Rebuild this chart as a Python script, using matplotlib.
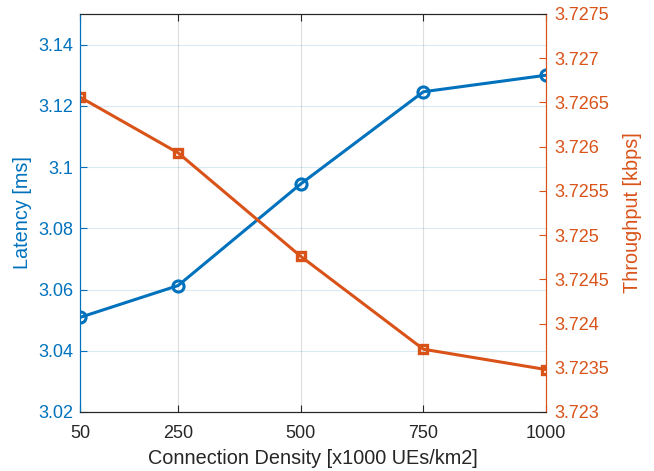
import matplotlib
matplotlib.use('Agg')
import matplotlib.pyplot as plt
import numpy as np

plt.rcParams['font.family'] = ['Liberation Sans', 'DejaVu Sans']

density = [50, 250, 500, 750, 1000]
latency = [3.0509, 3.0613, 3.0945, 3.1246, 3.1300]
throughput = [3.72656, 3.72593, 3.72476, 3.72371, 3.72348]

blue = '#0072BD'
orange = '#D95319'
dark = '#262626'

fig = plt.figure(figsize=(6.54, 4.71), dpi=100)
ax = fig.add_axes([80/654, 59/471, 466/654, 398/471])
ax2 = ax.twinx()

ax.plot(density, latency, '-o', color=blue, lw=2.2, ms=8, mfc='none', mew=2.2)
ax2.plot(density, throughput, '-s', color=orange, lw=2.2, ms=6, mfc='none', mew=2.4)

ax.set_xlim(50, 1000)
ax.set_ylim(3.02, 3.15)
ax.set_xticks(density)
ax.set_yticks(np.arange(3.02, 3.141, 0.02))
ax.set_yticklabels(['3.02', '3.04', '3.06', '3.08', '3.1', '3.12', '3.14'])
ax2.set_ylim(3.723, 3.7275)
r_ticks = np.arange(3.723, 3.72751, 0.0005)
ax2.set_yticks(r_ticks)
ax2.set_yticklabels(['%g' % round(t, 4) for t in r_ticks])

ax.grid(True, axis='x', color=dark, alpha=0.15, lw=0.8)
ax.grid(True, axis='y', color=blue, alpha=0.15, lw=0.8)
ax.set_axisbelow(True)

ax.tick_params(axis='x', direction='in', top=True, colors=dark, labelsize=13, length=5, pad=9)
ax.tick_params(axis='y', direction='in', colors=blue, labelsize=13, length=5, pad=5)
ax2.tick_params(axis='y', direction='in', colors=orange, labelsize=13, length=5, pad=6)

for a in (ax, ax2):
    a.spines['top'].set_color(dark)
    a.spines['bottom'].set_color(dark)
    a.spines['left'].set_color(blue)
    a.spines['right'].set_color(orange)

ax.set_xlabel('Connection Density [x1000 UEs/km2]', fontsize=14.3, color=dark, labelpad=5.5)
ax.set_ylabel('Latency [ms]', fontsize=14.3, color=blue, labelpad=4)
ax2.set_ylabel('Throughput [kbps]', fontsize=14.3, color=orange, labelpad=10)

fig.savefig('out.png', dpi=100)
